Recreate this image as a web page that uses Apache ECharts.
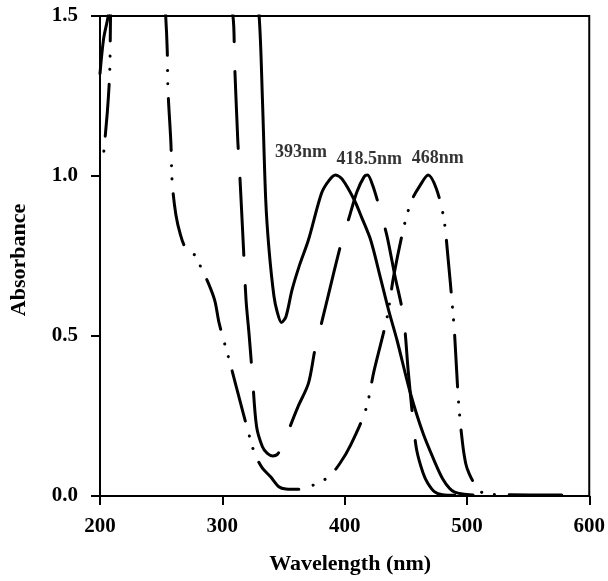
<!DOCTYPE html>
<html>
<head>
<meta charset="utf-8">
<script src="https://cdn.jsdelivr.net/npm/echarts@6/dist/echarts.min.js"></script>
<style>
html,body{margin:0;padding:0;background:#fff;}
#chart{width:608px;height:581px;}
</style>
</head>
<body>
<div id="chart"></div>
<script>
// X tick labels (nm) and Y tick labels
const xTicks = [200, 300, 400, 500, 600];
const yTicks = ['0.0', '0.5', '1.0', '1.5'];

// Curve with 393 nm maximum (solid)
const wl393 = [200, 203, 206.7, 210, 326, 330.1, 332.8, 335.5, 338.2, 342.2, 344.9, 348.3, 352, 357, 363, 370.4, 381.1, 387, 392.6, 398, 407.9, 414, 421.3, 429.4, 436, 442.8, 453.5, 464.2, 475, 480, 485.7, 490, 496.4, 505];
const abs393 = [1.32, 1.43, 1.5, 1.6, 1.6, 1.5, 1.24, 0.925, 0.77, 0.625, 0.575, 0.542, 0.56, 0.644, 0.72, 0.80, 0.946, 0.985, 1.003, 0.99, 0.925, 0.87, 0.80, 0.68, 0.58, 0.4875, 0.325, 0.195, 0.095, 0.055, 0.024, 0.012, 0.006, 0.003];

// Curve with 418.5 nm maximum (long dash)
const wl418 = [295, 308.7, 310, 312.7, 314, 317.3, 319.4, 322, 324.5, 328, 332.8, 336.8, 341.4, 345, 350, 354.3, 362, 370.4, 375.7, 381.1, 390, 397.2, 403.9, 410, 416, 418.7, 423, 429.4, 434.8, 441, 448.1, 452, 456.2, 458.9, 464.2, 468, 473.6, 480, 490];
const abs418 = [1.7, 1.5, 1.357, 1.107, 1.025, 0.775, 0.6125, 0.50, 0.38, 0.217, 0.154, 0.133, 0.125, 0.13, 0.16, 0.206, 0.28, 0.352, 0.456, 0.54, 0.68, 0.79, 0.873, 0.95, 0.998, 1.003, 0.97, 0.888, 0.81, 0.69, 0.56, 0.39, 0.227, 0.144, 0.071, 0.04, 0.013, 0.004, 0.002];

// Curve with 468 nm maximum (dash-dot-dot)
const wl468 = [202.2, 206, 208, 208.6, 210, 250, 253.7, 255, 255.5, 258, 259, 262, 265.8, 269.8, 274, 278.6, 282.3, 288.5, 293.9, 297.4, 306, 317.5, 323.4, 326.9, 332.8, 339.5, 346.2, 352, 363.6, 374.4, 387, 395.8, 405, 417.3, 424, 434.8, 440, 449, 455, 461.6, 468.3, 475, 481, 484.4, 488.4, 490, 493.2, 496.4, 499.1, 501.8, 506, 513.9, 530, 580];
const abs468 = [1.04, 1.2, 1.33, 1.5, 1.7, 1.7, 1.5, 1.39, 1.275, 1.10, 0.98, 0.88, 0.816, 0.775, 0.76, 0.75, 0.716, 0.666, 0.61, 0.54, 0.42, 0.253, 0.17, 0.128, 0.087, 0.06, 0.029, 0.022, 0.021, 0.034, 0.06, 0.10, 0.16, 0.27, 0.39, 0.56, 0.685, 0.85, 0.925, 0.97, 1.003, 0.96, 0.87, 0.75, 0.58, 0.50, 0.29, 0.165, 0.10, 0.07, 0.04, 0.008, 0.004, 0.003];

// Peak annotations
const peakNm = [393, 418.5, 468];
const peakAbs = [1.0, 1.0, 1.0];
const peakText = ['393nm', '418.5nm', '468nm'];

const FONT = '"Liberation Serif", "Times New Roman", serif';
const zip = (a, b) => a.map((v, i) => [v, b[i]]);
const peakOffsets = [[-35, -23.5], [2, -16.5], [10, -17.7]];

const lineBase = {
  type: 'line',
  showSymbol: false,
  symbol: 'none',
  smooth: 0.3,
  clip: true,
  silent: true,
  animation: false
};

const chart = echarts.init(document.getElementById('chart'), null, {renderer: 'canvas'});
chart.setOption({
  animation: false,
  backgroundColor: '#fff',
  grid: {left: 95, right: 16, top: 16, bottom: 85, show: true, borderColor: '#000', borderWidth: 2, containLabel: false},
  xAxis: {
    type: 'value', min: 200, max: 600, interval: 100,
    name: 'Wavelength (nm)', nameLocation: 'middle', nameGap: 57,
    nameTextStyle: {fontFamily: FONT, fontWeight: 'bold', fontSize: 22, color: '#000', padding: [0, 0, 0, 11]},
    axisLine: {show: true, onZero: false, lineStyle: {color: '#000', width: 2}},
    axisTick: {show: true, inside: false, length: 9, lineStyle: {color: '#000', width: 2}},
    axisLabel: {show: true, margin: 20, fontFamily: FONT, fontWeight: 'bold', fontSize: 21, color: '#000',
      formatter: v => (xTicks.indexOf(v) >= 0 ? String(v) : '')},
    splitLine: {show: false}
  },
  yAxis: {
    type: 'value', min: 0, max: 1.5, interval: 0.5,
    name: 'Absorbance', nameLocation: 'middle', nameGap: 70, nameRotate: 90,
    nameTextStyle: {fontFamily: FONT, fontWeight: 'bold', fontSize: 22, color: '#000', padding: [0, 0, 0, -8]},
    axisLine: {show: true, onZero: false, lineStyle: {color: '#000', width: 2}},
    axisTick: {show: true, inside: false, length: 9, lineStyle: {color: '#000', width: 2}},
    axisLabel: {show: true, margin: 22, fontFamily: FONT, fontWeight: 'bold', fontSize: 21, color: '#000',
      formatter: v => yTicks[Math.round(v / 0.5)]},
    splitLine: {show: false}
  },
  series: [
    Object.assign({}, lineBase, {
      name: '393nm',
      data: zip(wl393, abs393),
      lineStyle: {color: '#000', width: 3, type: 'solid', cap: 'round', join: 'round'}
    }),
    Object.assign({}, lineBase, {
      name: '418.5nm',
      data: zip(wl418, abs418),
      lineStyle: {color: '#000', width: 3, type: [77, 30], dashOffset: 92, cap: 'round', join: 'round'}
    }),
    Object.assign({}, lineBase, {
      name: '468nm',
      data: zip(wl468, abs468),
      lineStyle: {color: '#000', width: 3, type: [52, 15, 0.1, 13, 0.1, 15], dashOffset: 68, cap: 'round', join: 'round'}
    }),
    {
      type: 'scatter',
      name: 'peaks',
      symbolSize: 0,
      silent: true,
      animation: false,
      data: peakNm.map((x, i) => ({
        value: [x, peakAbs[i]],
        name: peakText[i],
        label: {offset: peakOffsets[i]}
      })),
      label: {
        show: true, position: 'inside', formatter: '{b}',
        fontFamily: FONT, fontWeight: 'bold', fontSize: 18, color: '#000'
      },
      z: 10
    }
  ]
});
</script>
</body>
</html>
